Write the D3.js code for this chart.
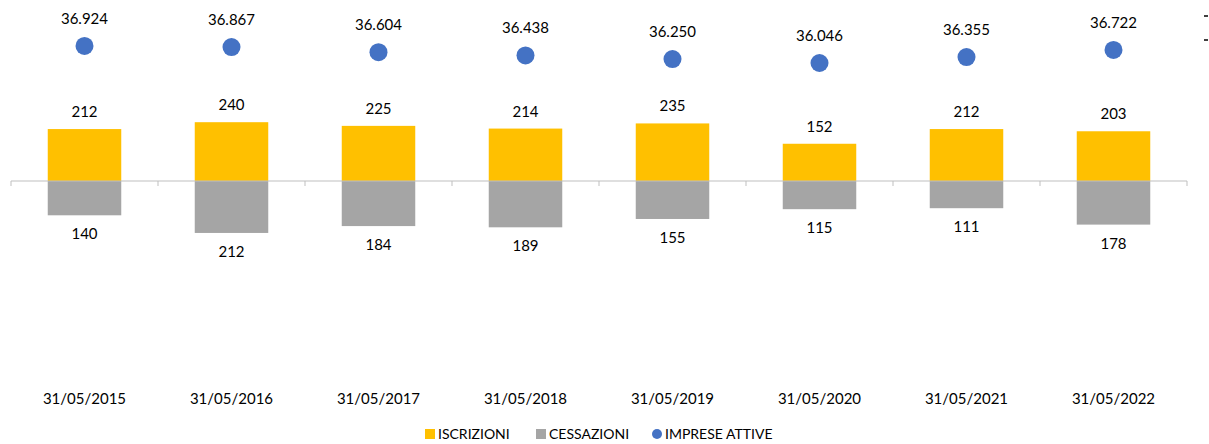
<!DOCTYPE html>
<html>
<head>
<meta charset="utf-8">
<script src="https://cdn.jsdelivr.net/npm/d3@7"></script>
<style>
  body { margin: 0; background: #fff; }
  text { font-family: Lato, "Open Sans", sans-serif; font-size: 15px; fill: #000; }
  .legend text { font-size: 14px; }
</style>
</head>
<body>
<div id="chart-area"></div>
<script>
const dates = ['31/05/2015', '31/05/2016', '31/05/2017', '31/05/2018', '31/05/2019', '31/05/2020', '31/05/2021', '31/05/2022'];
const iscrizioni = [212, 240, 225, 214, 235, 152, 212, 203];
const cessazioni = [140, 212, 184, 189, 155, 115, 111, 178];
const impreseAttive = [36.924, 36.867, 36.604, 36.438, 36.250, 36.046, 36.355, 36.722];
const legendItems = ['ISCRIZIONI', 'CESSAZIONI', 'IMPRESE ATTIVE'];

const width = 1209, height = 444;
const colors = {ISCRIZIONI: '#FFC000', CESSAZIONI: '#A5A5A5', 'IMPRESE ATTIVE': '#4472C4'};
const fmt = d3.format(',.3f');
const itFmt = v => fmt(v).replace(/,/g, '');

const svg = d3.select('#chart-area')
  .append('svg')
  .attr('width', width)
  .attr('height', height);

// scales
const x = d3.scaleBand()
  .domain(dates)
  .range([11, 1187])
  .paddingInner(0.5)
  .paddingOuter(0.25);

const xTick = d3.scaleBand().domain(dates).range([11, 1187]);

const y = d3.scaleLinear()
  .domain([-400, 400])
  .range([279, 83]);

const y2 = d3.scaleLinear()
  .domain([35, 37])
  .range([83.3, 44.5]);

// bars
svg.selectAll('.bar-up')
  .data(dates)
  .enter().append('rect')
  .attr('class', 'bar-up')
  .attr('x', d => x(d))
  .attr('width', x.bandwidth())
  .attr('y', (d, i) => y(iscrizioni[i]))
  .attr('height', (d, i) => y(0) - y(iscrizioni[i]))
  .attr('fill', colors.ISCRIZIONI);

svg.selectAll('.bar-down')
  .data(dates)
  .enter().append('rect')
  .attr('class', 'bar-down')
  .attr('x', d => x(d))
  .attr('width', x.bandwidth())
  .attr('y', y(0))
  .attr('height', (d, i) => y(-cessazioni[i]) - y(0))
  .attr('fill', colors.CESSAZIONI);

// axis line
const axis = svg.append('g');
axis.append('line')
  .attr('x1', 11).attr('x2', 1187)
  .attr('y1', y(0)).attr('y2', y(0))
  .attr('stroke', '#BFBFBF');
axis.selectAll('.tick')
  .data(dates.concat(['end']))
  .enter().append('line')
  .attr('x1', (d, i) => 11 + i * xTick.bandwidth())
  .attr('x2', (d, i) => 11 + i * xTick.bandwidth())
  .attr('y1', y(0)).attr('y2', y(0) + 5)
  .attr('stroke', '#BFBFBF');

// bar labels
svg.selectAll('.lbl-up')
  .data(dates)
  .enter().append('text')
  .attr('x', d => x(d) + x.bandwidth() / 2)
  .attr('y', (d, i) => y(iscrizioni[i]) - 12)
  .attr('text-anchor', 'middle')
  .text((d, i) => iscrizioni[i]);

svg.selectAll('.lbl-down')
  .data(dates)
  .enter().append('text')
  .attr('x', d => x(d) + x.bandwidth() / 2)
  .attr('y', (d, i) => y(-cessazioni[i]) + 24)
  .attr('text-anchor', 'middle')
  .text((d, i) => cessazioni[i]);

// dots
svg.selectAll('.dot')
  .data(dates)
  .enter().append('circle')
  .attr('cx', d => x(d) + x.bandwidth() / 2)
  .attr('cy', (d, i) => y2(impreseAttive[i]))
  .attr('r', 9)
  .attr('fill', colors['IMPRESE ATTIVE']);

svg.selectAll('.lbl-dot')
  .data(dates)
  .enter().append('text')
  .attr('x', d => x(d) + x.bandwidth() / 2)
  .attr('y', (d, i) => y2(impreseAttive[i]) - 22)
  .attr('text-anchor', 'middle')
  .text((d, i) => itFmt(impreseAttive[i]));

// category labels
svg.selectAll('.cat')
  .data(dates)
  .enter().append('text')
  .attr('x', d => x(d) + x.bandwidth() / 2)
  .attr('y', 404)
  .attr('text-anchor', 'middle')
  .text(d => d);

// tiny marks at right edge (cut-off axis)
[16, 40].forEach(yy => {
  svg.append('line')
    .attr('x1', 1204).attr('x2', 1208)
    .attr('y1', yy).attr('y2', yy)
    .attr('stroke', '#000').attr('stroke-width', 1.5);
});

// legend
const legendX = [425, 536, 652];
const legend = svg.append('g').attr('class', 'legend');
legendItems.forEach((item, i) => {
  const row = legend.append('g')
    .attr('transform', `translate(${legendX[i]}, 434)`);
  if (item === 'IMPRESE ATTIVE') {
    row.append('circle').attr('cx', 5).attr('cy', 0).attr('r', 5).attr('fill', colors[item]);
  } else {
    row.append('rect').attr('x', 0).attr('y', -5).attr('width', 10).attr('height', 10).attr('fill', colors[item]);
  }
  row.append('text')
    .attr('x', 13)
    .attr('y', 5)
    .text(item);
});
</script>
</body>
</html>
